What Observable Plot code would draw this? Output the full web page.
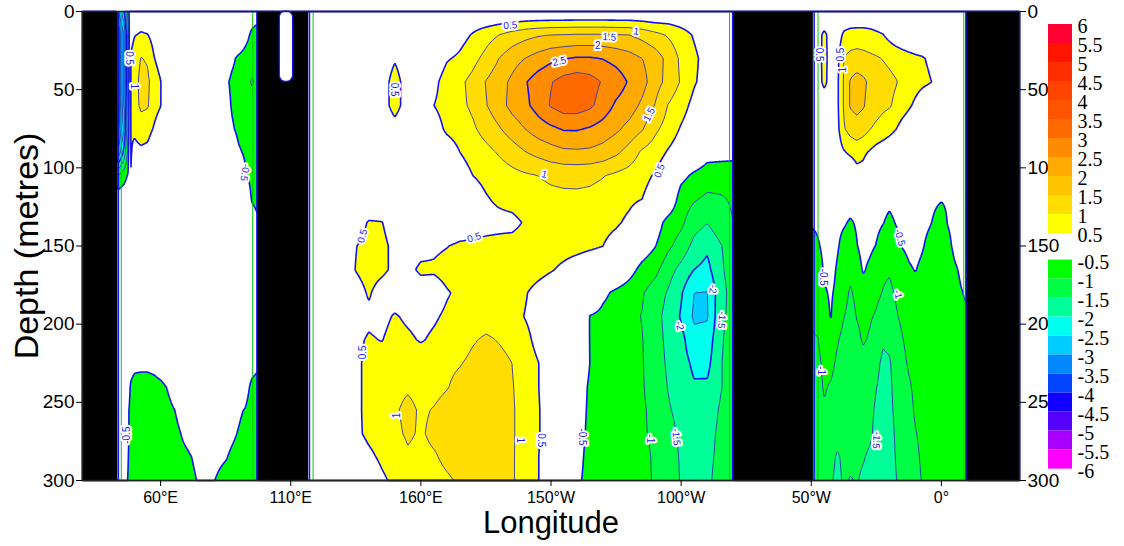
<!DOCTYPE html>
<html><head><meta charset="utf-8">
<script src="https://cdn.jsdelivr.net/npm/d3@7"></script>
<script src="https://cdn.jsdelivr.net/npm/@observablehq/plot@0.6"></script>
<style>
body{margin:0;background:#fff;}
#wrap{position:relative;width:1124px;height:546px;overflow:hidden;}
#wrap svg{position:absolute;left:0;top:0;}
</style></head><body><div id="wrap"></div>
<script>
// ---------- data ----------
const depths = [0,15,30,45,60,75,90,105,120,135,150,165,180,195,210,225,240,255,270,285,300];

const indianLon = [44,46,47.5,48.5,50,52.5,55,57.5,60,62.5,65,70,75,80,85,87.5,90,92.5,95,97.5];
const indianRows = [
[-3.0,-2.0,-0.8,0,0.1,0.2,0.1,0,0,0,0,0,0,0,0,0,0,0,-0.2,-0.3],
[-3.8,-3.0,-1.2,0.3,0.48,0.55,0.52,0.3,0.1,0,0,0,0,0,0,0,0,-0.3,-0.6,-0.7],
[-3.8,-3.0,-1.2,0.55,0.75,1.02,0.95,0.52,0.3,0.1,0,0,0,0,-0.2,-0.4,-0.6,-0.7,-0.8,-0.8],
[-3.8,-3.0,-1.2,0.55,0.8,1.15,1.1,0.75,0.52,0.15,0,0,0,0,-0.4,-0.6,-0.7,-0.75,-1.05,-0.9],
[-3.8,-2.8,-1.1,0.55,0.8,1.1,1.05,0.7,0.52,0.1,0,0,0,0,-0.3,-0.55,-0.65,-0.7,-0.8,-0.8],
[-3.5,-2.5,-1.0,0.55,0.6,0.75,0.7,0.45,0.2,0,0,0,0,0,-0.2,-0.45,-0.6,-0.65,-0.75,-0.75],
[-2.8,-1.8,-0.8,0.55,0.35,0.4,0.35,0.1,0,0,0,0,0,0,0,-0.2,-0.45,-0.55,-0.65,-0.7],
[-0.9,-0.7,-0.45,0.52,0.1,0,0,0,0,0,0,0,0,0,0,0,-0.2,-0.45,-0.6,-0.65],
[-0.2,-0.15,-0.05,0.1,0,0,0,0,0,0,0,0,0,0,0,0,0,-0.2,-0.52,-0.6],
[0,0,0,0,0,0,0,0,0,0,0,0,0,0,0,0,0,-0.1,-0.35,-0.45],
[0,0,0,0,0,0,0,0,0,0,0,0,0,0,0,0,0,0,0,0],
[0,0,0,0,0,0,0,0,0,0,0,0,0,0,0,0,0,0,0,0],
[0,0,0,0,0,0,0,0,0,0,0,0,0,0,0,0,0,0,0,0],
[0,0,0,0,0,0,0,0,0,0,0,0,0,0,0,0,0,0,0,0],
[0,0,-0.1,-0.15,-0.2,-0.2,-0.2,-0.15,-0.1,0,0,0,0,0,0,0,0,0,-0.1,-0.2],
[0,-0.1,-0.2,-0.3,-0.35,-0.35,-0.35,-0.3,-0.2,-0.1,0,0,0,0,0,0,0,-0.1,-0.3,-0.4],
[0,-0.1,-0.3,-0.55,-0.7,-0.75,-0.75,-0.7,-0.62,-0.48,-0.3,-0.1,0,0,0,0,-0.1,-0.3,-0.6,-0.7],
[-0.1,-0.2,-0.45,-0.6,-0.75,-0.8,-0.8,-0.78,-0.75,-0.65,-0.52,-0.3,-0.2,-0.2,-0.3,-0.38,-0.45,-0.52,-0.7,-0.75],
[-0.1,-0.25,-0.45,-0.6,-0.75,-0.8,-0.8,-0.78,-0.75,-0.68,-0.6,-0.42,-0.3,-0.3,-0.4,-0.45,-0.52,-0.6,-0.7,-0.75],
[-0.15,-0.3,-0.48,-0.65,-0.75,-0.8,-0.8,-0.78,-0.75,-0.7,-0.62,-0.55,-0.42,-0.42,-0.48,-0.55,-0.6,-0.65,-0.72,-0.75],
[-0.2,-0.35,-0.52,-0.65,-0.75,-0.8,-0.8,-0.78,-0.75,-0.72,-0.68,-0.6,-0.47,-0.48,-0.6,-0.62,-0.65,-0.68,-0.72,-0.75]
];

const pacificLon = [118,120,125,130,135,140,145,150,155,160,165,170,175,180,185,190,195,200,205,210,215,220,225,230,235,240,245,250,255,260,265,270,275,280];
const pacificRows = [
[0,0,0,0,0,0,0,0,0,0,0,0,0,0,-0.1,-0.1,-0.1,-0.1,-0.1,-0.1,-0.1,-0.1,-0.1,-0.1,-0.1,-0.1,-0.1,-0.1,0,0,0,0,0,0],
[0,0,0,0,0,0,0,0,0,0,0,0,0.3,0.55,0.8,1.0,1.2,1.35,1.45,1.5,1.52,1.55,1.55,1.55,1.52,1.5,1.35,1.15,0.95,0.72,0.45,0.2,0.05,0],
[0,0,0,0,0,0,0.2,0.45,0.2,0,0.1,0.45,0.6,0.85,1.15,1.5,1.8,2.0,2.2,2.38,2.48,2.55,2.55,2.48,2.35,2.2,2.0,1.75,1.35,0.9,0.6,0.3,0.1,0],
[0,0,0,0,0,0,0.25,0.7,0.25,0,0.35,0.75,0.9,1.15,1.52,1.8,2.1,2.45,2.75,2.97,3.2,3.3,3.2,2.95,2.75,2.45,2.2,1.7,1.35,0.95,0.55,0.3,0.1,0],
[0,0,0,0,0,0,0.25,0.7,0.25,0,0.5,0.7,0.88,1.1,1.47,1.8,2.15,2.38,2.7,3.05,3.25,3.25,3.1,2.78,2.42,2.25,1.9,1.48,0.98,0.7,0.35,0.12,0,0],
[0,0,0,0,0,0,0.1,0.3,0.1,0,0.25,0.6,0.72,0.92,1.2,1.45,1.75,2.0,2.25,2.4,2.55,2.55,2.45,2.3,2.1,1.85,1.55,1.1,0.8,0.45,0.2,0.05,0,0],
[0,0,0,0,0,0,0,0,0,0,0,0.2,0.5,0.7,0.85,1.05,1.25,1.48,1.65,1.8,1.9,1.92,1.9,1.8,1.6,1.3,0.92,0.75,0.45,0.2,0,-0.3,-0.3,-0.3],
[0,0,0,0,0,0,0,0,0,0,0,0,0.25,0.5,0.65,0.75,0.85,0.93,1.0,1.08,1.12,1.13,1.1,1.02,0.9,0.8,0.65,0.45,0.1,-0.35,-0.6,-0.75,-0.8,-0.85],
[0,0,0,0,0,0,0,0,0,0,0,0,0,0.2,0.45,0.6,0.7,0.8,0.85,0.88,0.9,0.9,0.88,0.82,0.7,0.6,0.5,0.25,0,-0.75,-0.95,-1.1,-1.05,-0.95],
[0,0,0,0,0.2,0.55,0.52,0.2,0,0,0,0,0.1,0.2,0.3,0.33,0.35,0.55,0.65,0.7,0.72,0.72,0.7,0.65,0.57,0.4,0.1,-0.2,-0.7,-0.9,-1.3,-1.48,-1.2,-1.0],
[0,0,0,0.1,0.48,0.7,0.65,0.35,0.15,0.3,0.4,0.48,0.6,0.63,0.65,0.68,0.7,0.75,0.78,0.75,0.72,0.68,0.6,0.5,0.3,0.05,-0.2,-0.48,-0.9,-1.2,-1.65,-1.9,-1.55,-1.2],
[0,0,0,0.15,0.52,0.68,0.6,0.4,0.35,0.6,0.58,0.7,0.75,0.78,0.8,0.82,0.82,0.8,0.7,0.55,0.38,0.2,0.05,0,0,-0.3,-0.65,-0.85,-1.3,-1.65,-2.0,-2.15,-1.6,-1.25],
[0,0,0,0,0.3,0.55,0.3,0.2,0.1,0.2,0.2,0.45,0.62,0.72,0.78,0.78,0.7,0.55,0.3,0.1,0,0,0,-0.4,-0.6,-0.75,-0.95,-1.25,-1.55,-1.95,-2.5,-2.52,-1.7,-1.3],
[0,0,0,0,0.3,0.4,0.35,0.55,0.4,0.3,0.42,0.6,0.7,0.78,0.85,0.85,0.7,0.48,0.3,0.1,0,0,-0.52,-0.62,-0.72,-0.85,-1.02,-1.35,-1.65,-2.05,-2.58,-2.55,-1.65,-1.3],
[0,0,0,0,0.4,0.55,0.48,0.7,0.6,0.45,0.6,0.75,0.85,0.97,1.05,0.98,0.9,0.65,0.35,0.15,0,0,-0.52,-0.62,-0.72,-0.85,-0.98,-1.3,-1.62,-1.85,-2.35,-2.3,-1.6,-1.2],
[0,0,0,0,0.38,0.65,0.75,0.85,0.9,0.85,0.88,0.93,0.98,1.08,1.12,1.1,1.0,0.75,0.52,0.2,0,0,-0.51,-0.6,-0.7,-0.82,-0.97,-1.25,-1.58,-1.8,-2.1,-2.15,-1.55,-1.2],
[0,0,0,0,0.38,0.65,0.75,0.9,0.95,0.88,0.9,0.98,1.1,1.15,1.18,1.15,1.03,0.8,0.52,0.2,0,-0.2,-0.58,-0.65,-0.75,-0.85,-0.96,-1.2,-1.52,-1.75,-1.95,-1.92,-1.55,-1.2],
[0,0,0,0,0.38,0.65,0.78,0.95,1.1,0.95,1.02,1.12,1.2,1.22,1.22,1.18,1.05,0.82,0.55,0.2,0,-0.25,-0.6,-0.68,-0.78,-0.88,-0.95,-1.1,-1.45,-1.65,-1.8,-1.78,-1.45,-1.2],
[0,0,0,0,0.38,0.62,0.75,0.92,1.05,0.96,1.08,1.15,1.2,1.22,1.22,1.18,1.05,0.82,0.55,0.2,0,-0.3,-0.62,-0.7,-0.8,-0.88,-0.96,-1.06,-1.35,-1.58,-1.75,-1.68,-1.4,-1.2],
[0,0,0,0,0.15,0.38,0.6,0.8,0.95,0.9,0.96,1.08,1.15,1.2,1.2,1.15,1.05,0.8,0.52,0.2,0,-0.35,-0.65,-0.72,-0.8,-0.86,-0.92,-1.04,-1.25,-1.56,-1.7,-1.62,-1.38,-1.2],
[0,0,0,0,0,0.1,0.4,0.62,0.75,0.82,0.88,0.95,1.05,1.15,1.15,1.12,1.05,0.8,0.52,0.2,0,-0.42,-0.65,-0.72,-0.8,-0.86,-0.92,-1.03,-1.2,-1.54,-1.65,-1.58,-1.35,-1.2]
];

const atlanticLon = [310,312.5,315,317.5,320,322.5,325,327.5,330,332.5,335,337.5,340,342.5,345,347.5,350,352.5,355,357.5,360,362.5,365,367.5,370];
const atlanticRows = [
[0,0,0,0,0,0,0,0,0,0,0,0,0,0,0,0,0,0,0,0,0,0,0,0,0],
[0,0.3,0.62,0.3,0.2,0.6,0.7,0.72,0.72,0.68,0.6,0.52,0.35,0.2,0.1,0,0,0,0,0,0,0,0,0,0],
[0,0.3,0.65,0.3,0.35,1.02,1.15,1.2,1.15,1.1,1.05,0.98,0.9,0.82,0.75,0.68,0.6,0.55,0.45,0.3,0.05,0,0,0,0],
[0,0.3,0.62,0.3,0.4,1.05,1.55,1.7,1.6,1.4,1.3,1.2,1.12,1.03,0.9,0.8,0.7,0.62,0.55,0.45,0.1,0,0,0,0],
[0,0.05,0.2,0.1,0.4,1.05,1.55,1.65,1.55,1.3,1.2,1.1,1.05,0.9,0.75,0.58,0.4,0.2,0.05,0,0,0,0,0,0],
[0,0,0,0,0.35,0.95,1.2,1.3,1.2,1.02,0.9,0.8,0.68,0.52,0.3,0.15,0,0,0,0,0,0,0,0,0],
[0,0,0,0,0.2,0.45,0.6,0.7,0.6,0.45,0.3,0.2,0.1,0,0,0,0,0,0,0,0,0,0,0,0],
[0,0,0,0,0,0,0,0.3,0.3,0,0,0,0,0,0,0,0,0,-0.2,-0.28,-0.32,-0.28,-0.2,-0.1,0],
[-0.2,-0.25,-0.2,-0.2,-0.2,-0.25,-0.3,-0.25,-0.2,-0.25,-0.3,-0.35,-0.4,-0.35,-0.3,-0.3,-0.3,-0.35,-0.4,-0.45,-0.48,-0.45,-0.4,-0.35,-0.3],
[-0.45,-0.42,-0.35,-0.35,-0.4,-0.45,-0.55,-0.45,-0.35,-0.35,-0.4,-0.48,-0.6,-0.48,-0.4,-0.35,-0.35,-0.38,-0.45,-0.55,-0.65,-0.48,-0.4,-0.35,-0.3],
[-0.7,-0.55,-0.4,-0.3,-0.45,-0.65,-0.72,-0.52,-0.35,-0.4,-0.52,-0.7,-0.75,-0.65,-0.48,-0.4,-0.35,-0.45,-0.6,-0.7,-0.72,-0.6,-0.42,-0.35,-0.3],
[-0.8,-0.7,-0.45,-0.35,-0.55,-0.8,-0.9,-0.7,-0.45,-0.6,-0.8,-0.92,-0.95,-0.85,-0.7,-0.55,-0.48,-0.6,-0.75,-0.85,-0.85,-0.75,-0.55,-0.45,-0.4],
[-0.9,-0.75,-0.55,-0.45,-0.6,-0.85,-1.05,-0.9,-0.7,-0.8,-0.9,-1.02,-1.1,-0.95,-0.85,-0.75,-0.65,-0.7,-0.75,-0.75,-0.75,-0.7,-0.62,-0.52,-0.45],
[-0.95,-0.85,-0.65,-0.48,-0.75,-0.98,-1.15,-0.98,-0.9,-0.95,-1.05,-1.2,-1.25,-1.05,-0.9,-0.82,-0.78,-0.75,-0.75,-0.75,-0.72,-0.7,-0.65,-0.58,-0.55],
[-1.05,-1.02,-0.8,-0.7,-0.95,-1.15,-1.25,-1.1,-0.95,-1.05,-1.25,-1.45,-1.4,-1.25,-1.02,-0.88,-0.8,-0.78,-0.76,-0.75,-0.74,-0.72,-0.72,-0.7,-0.7],
[-1.15,-1.1,-0.9,-0.85,-1.1,-1.25,-1.3,-1.2,-1.15,-1.25,-1.4,-1.58,-1.55,-1.3,-1.1,-0.95,-0.88,-0.85,-0.82,-0.8,-0.78,-0.77,-0.76,-0.75,-0.75],
[-1.2,-1.15,-0.95,-1.05,-1.2,-1.3,-1.32,-1.3,-1.3,-1.38,-1.49,-1.62,-1.6,-1.35,-1.2,-1.05,-0.92,-0.88,-0.85,-0.82,-0.8,-0.78,-0.77,-0.76,-0.75],
[-1.25,-1.2,-1.05,-1.15,-1.25,-1.3,-1.35,-1.35,-1.35,-1.42,-1.55,-1.65,-1.62,-1.4,-1.25,-1.12,-0.95,-0.9,-0.87,-0.84,-0.82,-0.8,-0.78,-0.77,-0.76],
[-1.25,-1.22,-1.2,-1.25,-1.35,-1.35,-1.35,-1.38,-1.4,-1.45,-1.58,-1.68,-1.65,-1.45,-1.3,-1.15,-1.02,-0.92,-0.88,-0.85,-0.83,-0.8,-0.78,-0.77,-0.76],
[-1.3,-1.3,-1.3,-1.38,-1.55,-1.42,-1.42,-1.45,-1.48,-1.55,-1.6,-1.7,-1.68,-1.48,-1.35,-1.2,-1.08,-0.95,-0.9,-0.87,-0.85,-0.82,-0.8,-0.78,-0.77],
[-1.3,-1.3,-1.35,-1.45,-1.6,-1.45,-1.52,-1.48,-1.55,-1.6,-1.65,-1.72,-1.7,-1.52,-1.35,-1.2,-1.1,-0.99,-0.92,-0.88,-0.85,-0.83,-0.8,-0.79,-0.78]
];

// land (longitude intervals, degrees east on a continuous 30..390 axis)
const landWest = [30, 97.2, 280, 369.6];
const landEast = [43.6, 116.9, 310.8, 390];
const notchWest = [105.8], notchEast = [110.9], notchBottom = [45];
const blueEdges = [43.8, 97.0, 117.2, 279.8, 311.1, 369.4];
const greenEdges = [44.9, 95.4, 118.6, 278.6, 312.6, 368.6];

const depthTicks = [0,50,100,150,200,250,300];
const lonTicks = [60,110,160,210,260,310,360];
const lonTickLabels = ["60°E","110°E","160°E","150°W","100°W","50°W","0°"];

const posLevels = [0.5,1,1.5,2,2.5,3,3.5,4,4.5,5,5.5,6];
const negLevels = [-0.5,-1,-1.5,-2,-2.5,-3,-3.5,-4,-4.5,-5,-5.5,-6];
const posColors = ["#FFFF00","#FFDD00","#FFC400","#FFAA00","#FF8C00","#FF6A00","#FF5500","#FF4400","#FF2E00","#FF1500","#FF0033"];
const negColors = ["#00FF00","#00FF44","#00FF99","#00FFEE","#00CCFF","#0088FF","#0044FF","#1100FF","#5500FF","#AA00FF","#FF00FF"];

// contour labels
const cLabelLon = [47.8,49.7,92.4,47.2,194.4,242.7,232.4,228,213.2,247.8,207.4,251.7,149.7,137.6,180.5,137.6,150.8,198.2,206.2,221.8,248.1,258.1,259.4,272.2,275.6,313.2,321.3,322.2,344,314.5,343.3,313.8,335];
const cLabelDepth = [29.8,47.9,103,271,8.9,12.8,16.4,21.9,31.9,65.9,104.2,102,50,143.6,144.6,218,258.4,274.3,274.3,272.2,273.3,272.2,201,177.6,197.4,27.6,27.6,37.2,144.6,170,180.8,229.7,274.3];
const cLabelText = ["0.5","1","-0.5","-0.5","0.5","1","1.5","2","2.5","1.5","1","0.5","0.5","0.5","0.5","0.5","1","1","0.5","-0.5","-1","-1.5","-2","-2","-1.5","0.5","0.5","1","-0.5","-0.5","-1","-1","-1.5"];
const cLabelAngle = [90,90,100,-90,-3,8,3,0,-12,-62,15,-68,90,-75,-18,-90,-90,90,90,90,90,85,75,95,95,90,-90,-90,75,90,75,90,95];

// ---------- field ----------
const basins = [
  {lo: 43, hi: 97.6, lons: indianLon, rows: indianRows},
  {lo: 116, hi: 280.6, lons: pacificLon, rows: pacificRows},
  {lo: 310, hi: 370.5, lons: atlanticLon, rows: atlanticRows}
];
function clamp(v, a, b) { return v < a ? a : v > b ? b : v; }
function sampleBasin(b, lon, dep) {
  const L = b.lons, n = L.length;
  const i = clamp(d3.bisectRight(L, lon) - 1, 0, n - 2);
  const tx = clamp((lon - L[i]) / (L[i + 1] - L[i]), 0, 1);
  const j = clamp(d3.bisectRight(depths, dep) - 1, 0, depths.length - 2);
  const ty = clamp((dep - depths[j]) / (depths[j + 1] - depths[j]), 0, 1);
  const r0 = b.rows[j], r1 = b.rows[j + 1];
  const a = r0[i] * (1 - tx) + r0[i + 1] * tx;
  const c = r1[i] * (1 - tx) + r1[i + 1] * tx;
  return a * (1 - ty) + c * ty;
}
function field(lon, dep) {
  for (const b of basins) if (lon >= b.lo && lon <= b.hi) return sampleBasin(b, lon, dep);
  return 0;
}
const valueFn = (x, y) => field(x, y);

const fillThresholds = negLevels.slice().reverse().concat(posLevels);
const fillRange = [negColors[10], ...negColors.slice().reverse(), "#FFFFFF", ...posColors, posColors[10]];
const thickLevels = [-2, -0.5, 0.5, 2.5];
const thinLevels = [-3.5, -3, -2.5, -1.5, -1, 1, 1.5, 2, 3];

const land = landWest.map((w, i) => ({w, e: landEast[i]}));
const notch = notchWest.map((w, i) => ({w, e: notchEast[i], b: notchBottom[i]}));
const ann = cLabelText.map((t, i) => ({lon: cLabelLon[i], dep: cLabelDepth[i], t, a: cLabelAngle[i]}));

const extent = {x1: 30, x2: 390, y1: 0, y2: 300, pixelSize: 1};

const main = Plot.plot({
  width: 1124, height: 546,
  marginLeft: 82, marginRight: 105, marginTop: 11, marginBottom: 66,
  style: {fontFamily: "'Liberation Sans', Arial, sans-serif", background: "white", color: "black"},
  x: {domain: [30, 390], axis: null},
  y: {domain: [0, 300], reverse: true, axis: null},
  color: {type: "threshold", domain: fillThresholds, range: fillRange},
  marks: [
    Plot.contour({value: valueFn, fill: "value", thresholds: fillThresholds, ...extent}),
    Plot.contour({value: valueFn, thresholds: thinLevels, stroke: "#3535a8", strokeWidth: 0.9, fill: "none", ...extent}),
    Plot.contour({value: valueFn, thresholds: thickLevels, stroke: "#1212ee", strokeWidth: 1.6, fill: "none", ...extent}),
    Plot.ruleX(greenEdges, {stroke: "#00cc00", strokeWidth: 1}),
    Plot.rect(land, {x1: "w", x2: "e", y1: 0, y2: 300, fill: "black"}),
    Plot.ruleX(blueEdges, {stroke: "#1212ee", strokeWidth: 1.5}),
    Plot.rect(notch, {x1: "w", x2: "e", y1: 0, y2: "b", fill: "white", stroke: "#1212ee", strokeWidth: 1.2, rx: 6}),
    Plot.text(ann, {x: "lon", y: "dep", text: "t", rotate: "a", fontSize: 10, fill: "#1a1aee", stroke: "white", strokeWidth: 4, paintOrder: "stroke"}),
    Plot.frame({stroke: "#222", strokeWidth: 1.5}),
    Plot.axisY(depthTicks, {anchor: "left", tickSize: 6, tickPadding: 2, fontSize: 19, label: null}),
    Plot.axisY(depthTicks, {anchor: "right", tickSize: 6, tickPadding: 2, fontSize: 19, label: null}),
    Plot.axisX(lonTicks, {anchor: "bottom", tickSize: 6, tickPadding: 5, fontSize: 16, label: null,
      tickFormat: (d) => lonTickLabels[lonTicks.indexOf(d)]}),
    Plot.text(["Depth (metres)"], {frameAnchor: "left", dx: -55, rotate: -90, textAnchor: "middle", lineAnchor: "middle", fontSize: 34, fill: "black"}),
    Plot.text(["Longitude"], {frameAnchor: "bottom", dy: 43, textAnchor: "middle", lineAnchor: "middle", fontSize: 31, fill: "black"})
  ]
});

// ---------- colour bar ----------
const bands = [];
posColors.forEach((c, k) => bands.push({top: 10 - k, bottom: 11 - k, c}));
negColors.forEach((c, k) => bands.push({top: 12.4 + k, bottom: 13.4 + k, c}));
const barLabels = [];
posLevels.forEach((v, i) => barLabels.push({slot: 11 - i, t: String(v)}));
negLevels.forEach((v, i) => barLabels.push({slot: 12.4 + i, t: String(v)}));

const bar = Plot.plot({
  width: 1124, height: 546, margin: 0,
  x: {domain: [0, 1], range: [1048, 1072], axis: null},
  y: {domain: [0, 23.4], range: [24, 468.6], axis: null},
  style: {background: "transparent", fontFamily: "'Liberation Serif', 'Times New Roman', serif"},
  marks: [
    Plot.rect(bands, {x1: 0, x2: 1, y1: "top", y2: "bottom", fill: "c"}),
    Plot.text(barLabels, {x: 1, y: "slot", text: "t", textAnchor: "start", dx: 5, dy: 2, fontSize: 20, fill: "black"})
  ]
});

const wrap = document.getElementById("wrap");
wrap.appendChild(main);
wrap.appendChild(bar);
</script>
</body></html>
